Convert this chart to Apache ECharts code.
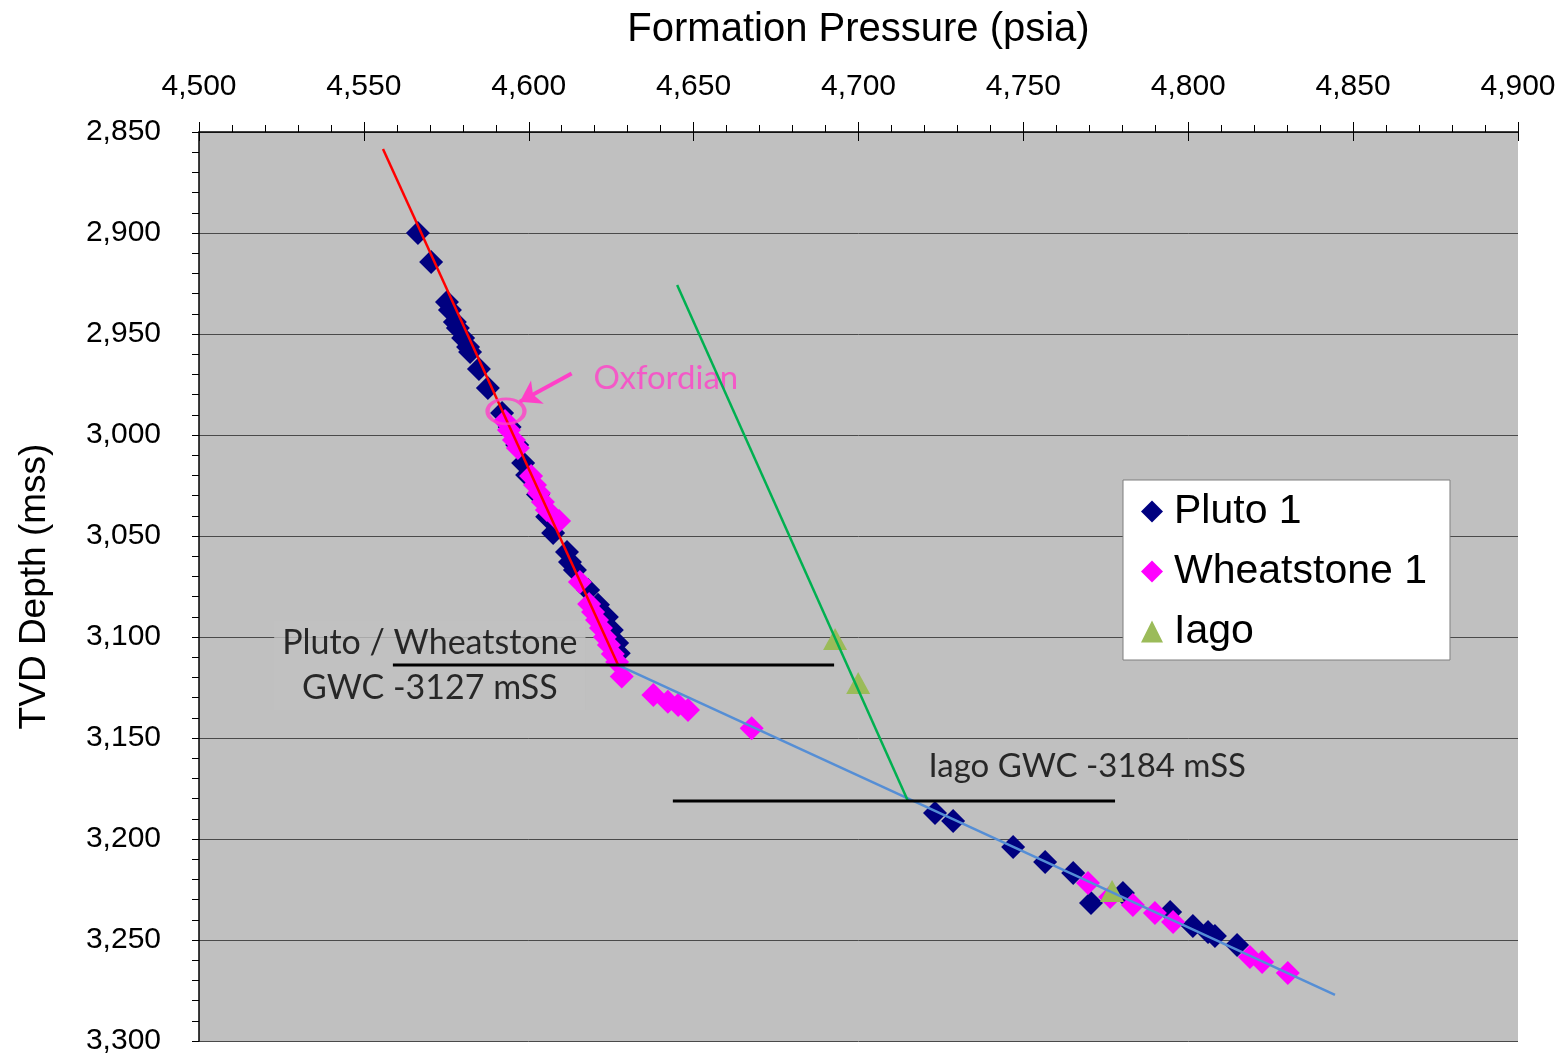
<!DOCTYPE html>
<html><head><meta charset="utf-8">
<script src="https://cdn.jsdelivr.net/npm/echarts@6/dist/echarts.min.js"></script>
<style>html,body{margin:0;padding:0;background:#fff}#c{width:1564px;height:1057px}</style>
</head><body><div id="c"></div>
<script>
// ---- data (pressure psia, TVD depth mss) ----
const pluto1 = [
  [4566.4,2900.0],[4570.4,2914.4],[4575.2,2934.2],[4576.1,2938.1],[4577.6,2944.1],
  [4578.5,2947.0],[4580.1,2952.0],[4581.6,2956.4],[4582.2,2958.9],[4584.9,2967.3],
  [4587.6,2976.7],[4591.9,2989.1],[4594.2,2996.0],[4596.5,3005.0],[4598.3,3013.9],
  [4599.5,3019.8],[4602.8,3029.5],[4605.6,3040.5],[4607.4,3048.5],[4611.6,3057.9],
  [4612.5,3062.9],[4614.0,3066.8],[4618.0,3076.7],[4621.0,3084.0],[4623.7,3090.1],
  [4625.2,3096.5],[4626.8,3103.0],[4627.3,3108.0],
  [4723.2,3187.1],[4728.7,3191.1],[4746.9,3204.0],[4756.6,3211.4],[4765.1,3216.8],
  [4770.5,3231.7],[4780.2,3226.7],[4794.5,3236.1],[4801.4,3243.1],[4806.0,3246.0],
  [4808.1,3248.0],[4814.8,3252.5]
];
const wheatstone1 = [
  [4592.8,2993.1],[4594.0,2997.5],[4595.5,3002.5],[4596.7,3006.4],[4600.7,3020.3],
  [4601.9,3024.8],[4603.1,3028.7],[4604.3,3033.2],[4605.5,3037.1],[4609.2,3042.6],
  [4615.5,3072.8],[4618.3,3083.7],[4619.5,3087.6],[4620.7,3091.6],[4621.9,3095.5],
  [4623.1,3100.0],[4624.3,3104.0],[4625.5,3108.4],[4626.8,3112.4],
  [4628.2,3119.6],[4637.8,3128.7],[4642.2,3132.0],[4645.3,3133.7],[4648.3,3136.1],
  [4667.6,3145.2],
  [4769.6,3221.8],[4776.3,3228.7],[4783.2,3232.7],[4789.9,3236.6],[4795.4,3241.1],
  [4818.7,3258.4],[4822.4,3260.9],[4830.2,3266.3]
];
const iago = [[4692.9,3101.0],[4699.9,3122.8],[4776.9,3225.7]];

// trend lines and contacts
const redTrend   = [[4555.8,2858.4],[4627.1,3113.9]];
const blueTrend  = [[4627.1,3113.9],[4844.5,3277.2]];
const greenTrend = [[4645.0,2925.7],[4715.0,3181.2]];
const plutoGWC   = [[4558.8,3113.9],[4692.6,3113.9]];
const iagoGWC    = [[4643.7,3181.2],[4777.8,3181.2]];

// annotations
const oxfordText = 'Oxfordian';
const oxfordTextPos = [4619.5,2971.8];
const oxfordCircle = [[4593.1,2988.3]];
const oxfordArrow = [[4613.0,2969.5],[4597.3,2983.5]];
const plutoGWCText = 'Pluto / Wheatstone\nGWC -3127 mSS';
const plutoGWCTextPos = [4570.0,3114.1];
const iagoGWCText = 'Iago GWC -3184 mSS';
const iagoGWCTextPos = [4721.1,3163.9];

const xName = 'Formation Pressure (psia)';
const yName = 'TVD Depth (mss)';

const chart = echarts.init(document.getElementById('c'), null, {renderer:'canvas'});
const tickFont = {fontFamily:'Liberation Sans, Arial', fontSize:30, color:'#000'};
const annoFont = 'Lato, Carlito, Calibri, sans-serif';

const option = {
  animation:false,
  backgroundColor:'#ffffff',
  grid:{left:199, top:132, right:46, bottom:16, show:true, backgroundColor:'#c0c0c0', borderWidth:0},
  xAxis:[{
    type:'value', position:'top', min:4500, max:4900, interval:50,
    name:xName, nameLocation:'middle', nameGap:82,
    nameTextStyle:{fontFamily:'Liberation Sans, Arial', fontSize:40, color:'#000'},
    axisLine:{show:true, onZero:false, lineStyle:{color:'#000', width:1.5}},
    axisTick:{show:true, inside:false, length:10, lineStyle:{color:'#000', width:1}},
    minorTick:{show:true, splitNumber:5, length:7, lineStyle:{color:'#000', width:1}},
    axisLabel:{margin:30, ...tickFont},
    splitLine:{show:false}
  },{
    type:'value', position:'top', min:4500, max:4900, interval:50,
    axisLine:{show:false}, axisLabel:{show:false},
    axisTick:{show:true, inside:true, length:9, lineStyle:{color:'#000', width:1}},
    splitLine:{show:false}
  }],
  yAxis:{
    type:'value', inverse:true, min:2850, max:3300, interval:50,
    name:yName, nameLocation:'middle', nameGap:146, nameRotate:90,
    nameTextStyle:{fontFamily:'Liberation Sans, Arial', fontSize:37, color:'#000'},
    axisLine:{show:true, onZero:false, lineStyle:{color:'#000', width:1.5}},
    axisTick:{show:true, inside:false, length:7, lineStyle:{color:'#000', width:1}},
    minorTick:{show:true, splitNumber:5, length:7, lineStyle:{color:'#000', width:1}},
    axisLabel:{margin:38, ...tickFont},
    splitLine:{show:true, lineStyle:{color:'#4a4a4a', width:1}}
  },
  legend:{
    orient:'vertical', left:1123, top:480,
    backgroundColor:'#ffffff', borderColor:'#7f7f7f', borderWidth:1,
    padding:[11,23,8,18], itemGap:19, itemWidth:22, itemHeight:22,
    textStyle:{fontFamily:'Liberation Sans, Arial', fontSize:41, lineHeight:41, color:'#000', padding:[0,0,0,6]},
    data:[{name:'Pluto 1', icon:'diamond'},{name:'Wheatstone 1', icon:'diamond'},{name:'Iago', icon:'triangle'}]
  },
  series:[
    {name:'Pluto 1', type:'scatter', data:pluto1, symbol:'diamond', symbolSize:24,
     itemStyle:{color:'#000080', opacity:1}, z:2, silent:true},
    {name:'Wheatstone 1', type:'scatter', data:wheatstone1, symbol:'diamond', symbolSize:24,
     itemStyle:{color:'#ff00ff', opacity:1}, z:2, silent:true},
    {name:'Iago', type:'scatter', data:iago, symbol:'triangle', symbolSize:[24,22],
     itemStyle:{color:'#9bbb59', opacity:1}, z:2, silent:true},
    {type:'line', data:redTrend, symbol:'none', lineStyle:{color:'#ff0000', width:2.5}, z:4, silent:true},
    {type:'line', data:blueTrend, symbol:'none', lineStyle:{color:'#558ed5', width:2.5}, z:4, silent:true},
    {type:'line', data:greenTrend, symbol:'none', lineStyle:{color:'#00b050', width:2.5}, z:4, silent:true},
    {type:'line', data:plutoGWC, symbol:'none', lineStyle:{color:'#000', width:3}, z:4, silent:true},
    {type:'line', data:iagoGWC, symbol:'none', lineStyle:{color:'#000', width:3}, z:4, silent:true},
    {type:'scatter', silent:true, z:1, symbolSize:1, itemStyle:{color:'rgba(0,0,0,0)'},
     data:[
       {value:plutoGWCTextPos, label:{show:true, position:'inside', formatter:plutoGWCText,
         fontFamily:annoFont, fontSize:34, lineHeight:45, color:'#000', align:'center',
         backgroundColor:'#c0c0c0', padding:[0,8]}},
       {value:iagoGWCTextPos, label:{show:true, position:'right', distance:0, formatter:iagoGWCText,
         fontFamily:annoFont, fontSize:33, color:'#000'}},
       {value:oxfordTextPos, label:{show:true, position:'right', distance:0, formatter:oxfordText,
         fontFamily:annoFont, fontSize:33, color:'#ff3fc8'}}
     ]},
    {type:'scatter', silent:true, z:5, data:oxfordCircle, symbol:'circle', symbolSize:[37,25],
     itemStyle:{color:'rgba(0,0,0,0)', borderColor:'#ff3fc8', borderWidth:3.5}},
    {type:'lines', coordinateSystem:'cartesian2d', silent:true, z:5,
     symbol:['none','arrow'], symbolSize:[0,20],
     lineStyle:{color:'#ff3fc8', width:4, opacity:1, curveness:0},
     data:[{coords:oxfordArrow}]}
  ]
};
chart.setOption(option);
</script></body></html>
